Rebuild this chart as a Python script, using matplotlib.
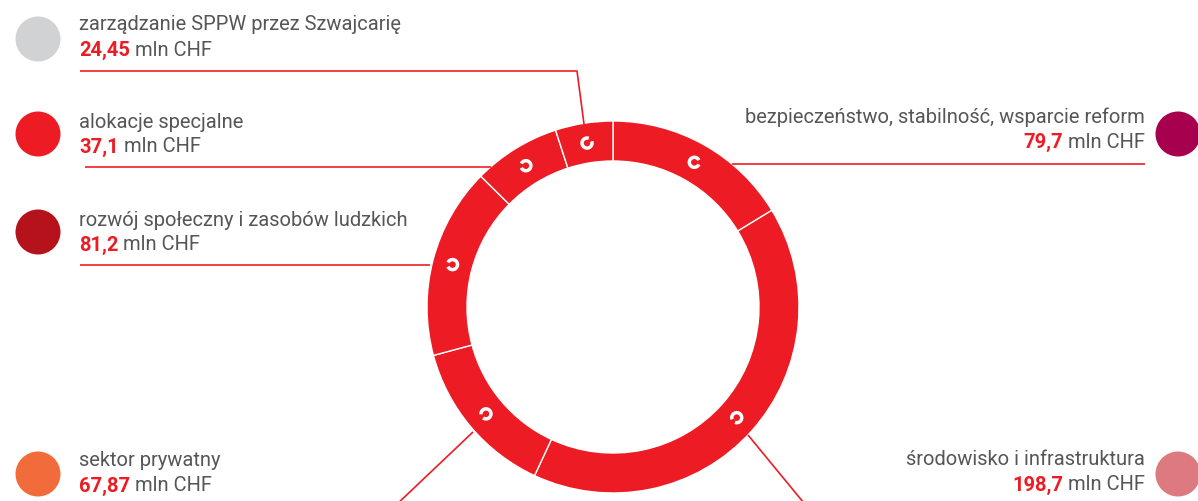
import math
import matplotlib
matplotlib.use("Agg")
import matplotlib.pyplot as plt
from matplotlib.patches import Circle, Arc

W, H = 1198, 502

RING_RED = "#ED1C24"
TEXT_GRAY = "#555658"

# clockwise from 12 o'clock
categories = [
    "bezpieczeństwo, stabilność, wsparcie reform",
    "środowisko i infrastruktura",
    "sektor prywatny",
    "rozwój społeczny i zasobów ludzkich",
    "alokacje specjalne",
    "zarządzanie SPPW przez Szwajcarię",
]
values = [79.7, 198.7, 67.87, 81.2, 37.1, 24.45]
value_labels = ["79,7", "198,7", "67,87", "81,2", "37,1", "24,45"]
legend_colors = ["#A6004F", "#DC7A7F", "#F26B3A", "#B5121B", "#ED1C24", "#D1D2D4"]
unit = " mln CHF"

# layout (pixel coords, y measured from the top)
CX, CY, R_OUT, RING_W = 613, 308, 186, 40
label_pos = [  # (x, y of name line, align)
    (1145, 117, "right"),
    (1145, 460, "right"),
    (79, 461, "left"),
    (79, 220, "left"),
    (79, 122, "left"),
    (79, 25, "left"),
]
dot_pos = [(1178, 135), (1178, 475), (38, 475), (38, 233), (38, 135), (38, 40)]
leaders = [
    [(732, 165), (1145, 165)],
    [(748, 436), (808, 509)],
    [(473, 433), (394, 508)],
    [(430, 266), (80, 266)],
    [(491, 168), (85, 168)],
    [(584, 125), (577, 72), (80, 72)],
]
gap_dir = [90, 225, 240, 270, 270, 45]  # where the little ring icon opens (compass deg)


def fy(y):
    return H - y


fig = plt.figure(figsize=(W / 100, H / 100), dpi=100)
ax = fig.add_axes([0, 0, 1, 1])

ax.pie(values, center=(CX, fy(CY)), radius=R_OUT, startangle=90,
       counterclock=False, colors=[RING_RED] * len(values),
       wedgeprops={"width": RING_W, "edgecolor": "white", "linewidth": 1.0})

ax.set_xlim(0, W)
ax.set_ylim(0, H)
ax.set_aspect("equal")
ax.axis("off")

# little ring icons at the middle of each segment
total = sum(values)
start = 0.0
r_mid = R_OUT - RING_W / 2
for v, g in zip(values, gap_dir):
    mid = start + v / total * 360 / 2
    start += v / total * 360
    a = math.radians(mid)
    mx = CX + r_mid * math.sin(a)
    my = fy(CY) + r_mid * math.cos(a)
    gap_mpl = 90 - g  # compass -> math angle
    ax.add_patch(Arc((mx, my), 10, 10, theta1=gap_mpl + 25, theta2=gap_mpl + 335,
                     color="white", lw=2.5, zorder=5))

for pts in leaders:
    ax.plot([p[0] for p in pts], [fy(p[1]) for p in pts],
            color=RING_RED, lw=1.2, solid_capstyle="butt", zorder=1, clip_on=False)

for (x, y), c in zip(dot_pos, legend_colors):
    ax.add_patch(Circle((x, fy(y)), 22.5, color=c, lw=0, zorder=3))

family = ["Roboto", "DejaVu Sans"]
FS = 14.5
fig.canvas.draw()
renderer = fig.canvas.get_renderer()
inv = ax.transData.inverted()

for name, val, (x, y, ha) in zip(categories, value_labels, label_pos):
    ax.text(x, fy(y), name, ha=ha, va="center", fontsize=FS,
            color=TEXT_GRAY, family=family, fontweight="normal")
    vy = fy(y + 25)
    if ha == "left":
        t = ax.text(x, vy, val, ha="left", va="center", fontsize=FS,
                    color=RING_RED, family=family, fontweight="bold")
        bb = t.get_window_extent(renderer)
        x2 = inv.transform((bb.x1, bb.y0))[0]
        ax.text(x2, vy, unit, ha="left", va="center", fontsize=FS,
                color=TEXT_GRAY, family=family, fontweight="normal")
    else:
        t = ax.text(x, vy, unit, ha="right", va="center", fontsize=FS,
                    color=TEXT_GRAY, family=family, fontweight="normal")
        bb = t.get_window_extent(renderer)
        x2 = inv.transform((bb.x0, bb.y0))[0]
        ax.text(x2, vy, val, ha="right", va="center", fontsize=FS,
                color=RING_RED, family=family, fontweight="bold")

fig.savefig("out.png", dpi=100, facecolor="white")
